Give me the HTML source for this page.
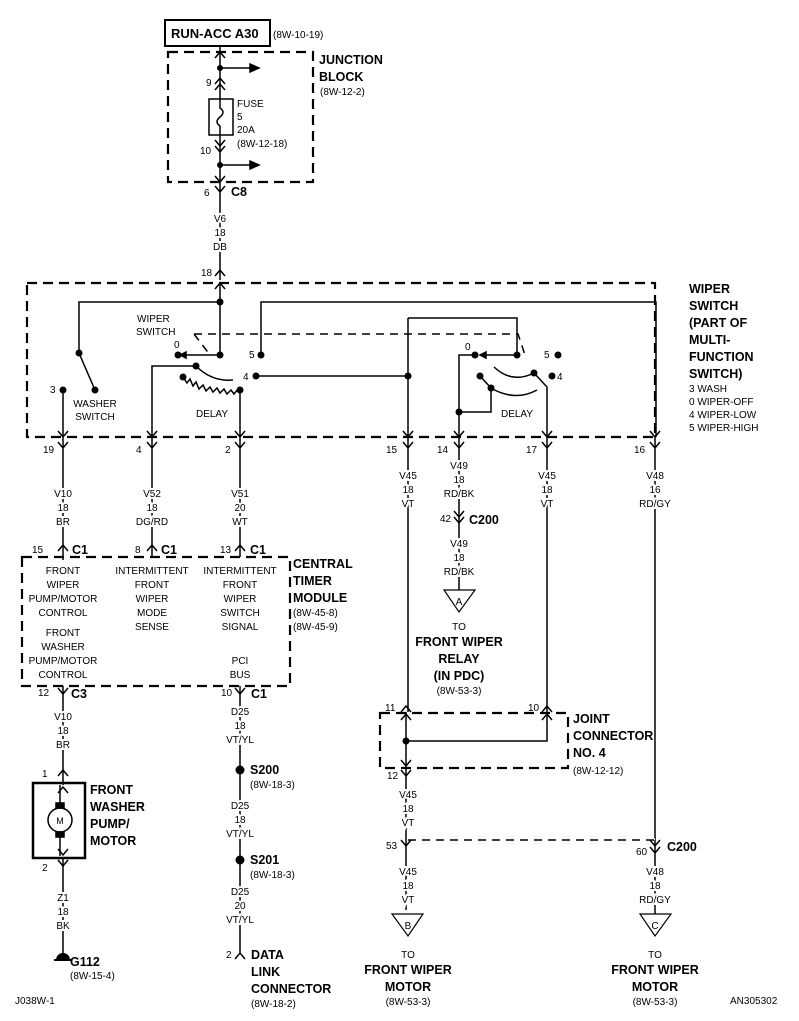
<!DOCTYPE html>
<html><head><meta charset="utf-8"><style>
html,body{margin:0;padding:0;background:#fff}
svg{display:block}
text{font-family:"Liberation Sans",sans-serif;font-size:10px;fill:#000}
.b{font-weight:bold;font-size:12.5px}
.c{text-anchor:middle}
.w{paint-order:stroke;stroke:#fff;stroke-width:4px}
</style></head><body>
<svg width="799" height="1021" viewBox="0 0 799 1021" xmlns="http://www.w3.org/2000/svg">
<defs>
<path id="dn" d="M-5,-6 L0,0 L5,-6" fill="none" stroke="#000" stroke-width="1.5"/>
<path id="up" d="M-5,6 L0,0 L5,6" fill="none" stroke="#000" stroke-width="1.5"/>
</defs>
<g stroke="#000" stroke-width="1.5" fill="none">
<rect x="165" y="20" width="105" height="26" stroke-width="2"/>
<rect x="168" y="52" width="145" height="130" stroke-width="2.2" stroke-dasharray="10,6"/>
<path d="M220,46 V280"/>
<path d="M220,68 H250 M220,165 H250"/>
<path d="M250,64 L259,68 L250,72 Z M250,161 L259,165 L250,169 Z" fill="#000"/>
<rect x="209" y="99" width="24" height="36" fill="#fff"/>
<path d="M220,99 V108 Q226,112 220,117 Q214,122 220,126 V135"/>
<rect x="27" y="283" width="628" height="154" stroke-width="2.2" stroke-dasharray="10,6"/>
<path d="M220,283 V355 M220,302 H79 V353 L95,390"/>
<path d="M220,355 H186"/>
<path d="M186,352 L180,355 L186,358Z" fill="#000"/>
<path d="M194,334 L210,355 M194,334 H518 L525,355" stroke-dasharray="8,6"/>
<path d="M63,390 V437"/>
<path d="M261,355 V302 H656 V437"/>
<path d="M196,366 H152 V437"/>
<path d="M196,366 Q212,382 233,380"/>
<path d="M183,377 l4,6 l3,-4 l3,7 l3,-4 l3,7 l4,-4 l3,6 l4,-4 l3,5 l4,-4 l3,5 l4,-4 l3,5 l4,-4 l3,4 l4,-5 l4,3"/>
<path d="M240,390 V437"/>
<path d="M256,376 H408"/>
<path d="M408,318 V437 M408,318 H517 V355 H485"/>
<path d="M486,352 L480,355 L486,358Z" fill="#000"/>
<path d="M475,355 H459 V437 M459,412 H491 V388 M480,376 L491,388"/>
<path d="M491,388 Q515,402 537,390"/>
<path d="M494,367 Q512,384 534,373 L547,387 V437"/>
<path d="M63,437 V560 M152,437 V557 M240,437 V557 M408,437 V712 M459,437 V590 M547,437 V712 M655,437 V840"/>
<rect x="22" y="557" width="268" height="129" stroke-width="2.2" stroke-dasharray="10,6"/>
<path d="M63,686 V785 M63,858 V955 M240,686 V953"/>
<rect x="33" y="783" width="52" height="75" stroke-width="2.5"/>
<path d="M60,785 V808 M60,832 V856"/>
<circle cx="60" cy="820" r="12" fill="#fff"/>
<rect x="56" y="803" width="8" height="5" fill="#000"/>
<rect x="56" y="832" width="8" height="5" fill="#000"/>
<path d="M54,960 H72" stroke-width="2"/>
<rect x="380" y="713" width="188" height="55" stroke-width="2.2" stroke-dasharray="10,6"/>
<path d="M406,712 V910 M406,741 H547 V712" />
<path d="M408,840 H655" stroke="#fff" stroke-width="3"/>
<path d="M408,840 H655" stroke-dasharray="8,6"/>
<path d="M655,840 V914"/>
<path d="M444,590 H475 L459,612 Z M392,914 H423 L408,936 Z M640,914 H671 L655,936 Z" stroke-width="1.2"/>
</g>
<g fill="#000">
<circle cx="220" cy="68" r="3"/><circle cx="220" cy="165" r="3"/>
<circle cx="220" cy="302" r="3.5"/><circle cx="220" cy="355" r="3.5"/>
<circle cx="79" cy="353" r="3.5"/><circle cx="95" cy="390" r="3.5"/><circle cx="63" cy="390" r="3.5"/>
<circle cx="178" cy="355" r="3.5"/><circle cx="261" cy="355" r="3.5"/>
<circle cx="196" cy="366" r="3.5"/><circle cx="183" cy="377" r="3.5"/><circle cx="240" cy="390" r="3.5"/>
<circle cx="256" cy="376" r="3.5"/><circle cx="408" cy="376" r="3.5"/>
<circle cx="517" cy="355" r="3.5"/><circle cx="475" cy="355" r="3.5"/><circle cx="459" cy="412" r="3.5"/>
<circle cx="491" cy="388" r="3.5"/><circle cx="480" cy="376" r="3.5"/><circle cx="534" cy="373" r="3.5"/>
<circle cx="558" cy="355" r="3.5"/><circle cx="552" cy="376" r="3.5"/>
<circle cx="406" cy="741" r="3.5"/>
<circle cx="240" cy="770" r="4.5"/><circle cx="240" cy="860" r="4.5"/>
<path d="M56,960 A7,7 0 0 1 70,960 Z"/>
</g>
<use href="#up" x="220" y="52"/>
<use href="#up" x="220" y="78"/><use href="#up" x="220" y="84"/>
<use href="#dn" x="220" y="146"/><use href="#dn" x="220" y="152"/>
<use href="#dn" x="220" y="182"/><use href="#dn" x="220" y="192"/>
<use href="#up" x="220" y="270"/><use href="#up" x="220" y="283"/>
<use href="#dn" x="63" y="437"/><use href="#dn" x="63" y="448"/>
<use href="#dn" x="152" y="437"/><use href="#dn" x="152" y="448"/>
<use href="#dn" x="240" y="437"/><use href="#dn" x="240" y="448"/>
<use href="#dn" x="408" y="437"/><use href="#dn" x="408" y="448"/>
<use href="#dn" x="459" y="437"/><use href="#dn" x="459" y="448"/>
<use href="#dn" x="547" y="437"/><use href="#dn" x="547" y="448"/>
<use href="#dn" x="655" y="437"/><use href="#dn" x="655" y="448"/>
<use href="#dn" x="459" y="517"/><use href="#dn" x="459" y="523"/>
<use href="#up" x="63" y="545"/><use href="#up" x="152" y="545"/><use href="#up" x="240" y="545"/>
<use href="#dn" x="63" y="694"/><use href="#dn" x="240" y="694"/>
<use href="#up" x="63" y="770"/><use href="#up" x="63" y="787"/>
<use href="#dn" x="63" y="855"/><use href="#dn" x="63" y="866"/>
<use href="#up" x="240" y="953"/>
<use href="#up" x="406" y="706"/><use href="#up" x="406" y="714"/>
<use href="#up" x="547" y="706"/><use href="#up" x="547" y="714"/>
<use href="#dn" x="406" y="766"/><use href="#dn" x="406" y="776"/>
<use href="#dn" x="406" y="846"/><use href="#dn" x="655" y="846"/><use href="#dn" x="655" y="853"/>

<text x="171" y="38" class="b" style="font-size:13px">RUN-ACC A30</text>
<text x="273" y="38">(8W-10-19)</text>
<text x="319" y="64" class="b">JUNCTION</text>
<text x="319" y="81" class="b">BLOCK</text>
<text x="320" y="95">(8W-12-2)</text>
<text x="206" y="86">9</text>
<text x="237" y="107">FUSE</text><text x="237" y="120">5</text><text x="237" y="133">20A</text><text x="237" y="147">(8W-12-18)</text>
<text x="200" y="154">10</text>
<text x="204" y="196">6</text><text x="231" y="196" class="b">C8</text>
<g class="c">
<text x="220" y="222" class="w">V6</text><text x="220" y="236" class="w">18</text><text x="220" y="250" class="w">DB</text>
</g>
<text x="201" y="276">18</text>
<text x="137" y="322">WIPER</text><text x="136" y="335">SWITCH</text>
<text x="174" y="348">0</text><text x="249" y="358">5</text><text x="243" y="380">4</text>
<text x="50" y="393">3</text>
<text x="95" y="407" class="c">WASHER</text><text x="95" y="420" class="c">SWITCH</text>
<text x="212" y="417" class="c">DELAY</text>
<text x="465" y="350">0</text><text x="544" y="358">5</text><text x="557" y="380">4</text>
<text x="517" y="417" class="c">DELAY</text>
<text x="689" y="293" class="b">WIPER</text><text x="689" y="310" class="b">SWITCH</text>
<text x="689" y="327" class="b">(PART OF</text><text x="689" y="344" class="b">MULTI-</text>
<text x="689" y="361" class="b">FUNCTION</text><text x="689" y="378" class="b">SWITCH)</text>
<text x="689" y="392">3 WASH</text><text x="689" y="405">0 WIPER-OFF</text>
<text x="689" y="418">4 WIPER-LOW</text><text x="689" y="431">5 WIPER-HIGH</text>
<text x="43" y="453">19</text><text x="136" y="453">4</text><text x="225" y="453">2</text>
<text x="386" y="453">15</text><text x="437" y="453">14</text><text x="526" y="453">17</text><text x="634" y="453">16</text>
<g class="c">
<text x="63" y="497" class="w">V10</text><text x="63" y="511" class="w">18</text><text x="63" y="525" class="w">BR</text>
<text x="152" y="497" class="w">V52</text><text x="152" y="511" class="w">18</text><text x="152" y="525" class="w">DG/RD</text>
<text x="240" y="497" class="w">V51</text><text x="240" y="511" class="w">20</text><text x="240" y="525" class="w">WT</text>
<text x="408" y="479" class="w">V45</text><text x="408" y="493" class="w">18</text><text x="408" y="507" class="w">VT</text>
<text x="459" y="469" class="w">V49</text><text x="459" y="483" class="w">18</text><text x="459" y="497" class="w">RD/BK</text>
<text x="547" y="479" class="w">V45</text><text x="547" y="493" class="w">18</text><text x="547" y="507" class="w">VT</text>
<text x="655" y="479" class="w">V48</text><text x="655" y="493" class="w">16</text><text x="655" y="507" class="w">RD/GY</text>
<text x="459" y="547" class="w">V49</text><text x="459" y="561" class="w">18</text><text x="459" y="575" class="w">RD/BK</text>
<text x="459" y="605">A</text>
<text x="459" y="630">TO</text>
<text x="459" y="646" class="b">FRONT WIPER</text><text x="459" y="663" class="b">RELAY</text><text x="459" y="680" class="b">(IN PDC)</text>
<text x="459" y="694">(8W-53-3)</text>
</g>
<text x="440" y="522">42</text><text x="469" y="524" class="b">C200</text>
<text x="32" y="553">15</text><text x="72" y="554" class="b">C1</text>
<text x="135" y="553">8</text><text x="161" y="554" class="b">C1</text>
<text x="220" y="553">13</text><text x="250" y="554" class="b">C1</text>
<g class="c">
<text x="63" y="574">FRONT</text><text x="63" y="588">WIPER</text><text x="63" y="602">PUMP/MOTOR</text><text x="63" y="616">CONTROL</text>
<text x="63" y="636">FRONT</text><text x="63" y="650">WASHER</text><text x="63" y="664">PUMP/MOTOR</text><text x="63" y="678">CONTROL</text>
<text x="152" y="574">INTERMITTENT</text><text x="152" y="588">FRONT</text><text x="152" y="602">WIPER</text><text x="152" y="616">MODE</text><text x="152" y="630">SENSE</text>
<text x="240" y="574">INTERMITTENT</text><text x="240" y="588">FRONT</text><text x="240" y="602">WIPER</text><text x="240" y="616">SWITCH</text><text x="240" y="630">SIGNAL</text>
<text x="240" y="664">PCI</text><text x="240" y="678">BUS</text>
</g>
<text x="293" y="568" class="b">CENTRAL</text><text x="293" y="585" class="b">TIMER</text><text x="293" y="602" class="b">MODULE</text>
<text x="293" y="616">(8W-45-8)</text><text x="293" y="630">(8W-45-9)</text>
<text x="38" y="696">12</text><text x="71" y="698" class="b">C3</text>
<text x="221" y="696">10</text><text x="251" y="698" class="b">C1</text>
<g class="c">
<text x="63" y="720" class="w">V10</text><text x="63" y="734" class="w">18</text><text x="63" y="748" class="w">BR</text>
<text x="63" y="901" class="w">Z1</text><text x="63" y="915" class="w">18</text><text x="63" y="929" class="w">BK</text>
<text x="240" y="715" class="w">D25</text><text x="240" y="729" class="w">18</text><text x="240" y="743" class="w">VT/YL</text>
<text x="240" y="809" class="w">D25</text><text x="240" y="823" class="w">18</text><text x="240" y="837" class="w">VT/YL</text>
<text x="240" y="895" class="w">D25</text><text x="240" y="909" class="w">20</text><text x="240" y="923" class="w">VT/YL</text>
</g>
<text x="42" y="777">1</text><text x="42" y="871">2</text>
<text x="60" y="824" class="c" style="font-size:9px">M</text>
<text x="90" y="794" class="b">FRONT</text><text x="90" y="811" class="b">WASHER</text><text x="90" y="828" class="b">PUMP/</text><text x="90" y="845" class="b">MOTOR</text>
<text x="70" y="966" class="b">G112</text><text x="70" y="979">(8W-15-4)</text>
<text x="250" y="774" class="b">S200</text><text x="250" y="788">(8W-18-3)</text>
<text x="250" y="864" class="b">S201</text><text x="250" y="878">(8W-18-3)</text>
<text x="226" y="958">2</text>
<text x="251" y="959" class="b">DATA</text><text x="251" y="976" class="b">LINK</text><text x="251" y="993" class="b">CONNECTOR</text><text x="251" y="1007">(8W-18-2)</text>
<text x="385" y="711">11</text><text x="528" y="711">10</text>
<text x="387" y="779">12</text>
<text x="573" y="723" class="b">JOINT</text><text x="573" y="740" class="b">CONNECTOR</text><text x="573" y="757" class="b">NO. 4</text><text x="573" y="774">(8W-12-12)</text>
<g class="c">
<text x="408" y="798" class="w">V45</text><text x="408" y="812" class="w">18</text><text x="408" y="826" class="w">VT</text>
<text x="408" y="875" class="w">V45</text><text x="408" y="889" class="w">18</text><text x="408" y="903" class="w">VT</text>
<text x="655" y="875" class="w">V48</text><text x="655" y="889" class="w">18</text><text x="655" y="903" class="w">RD/GY</text>
<text x="408" y="929">B</text><text x="655" y="929">C</text>
<text x="408" y="958">TO</text><text x="408" y="974" class="b">FRONT WIPER</text><text x="408" y="991" class="b">MOTOR</text><text x="408" y="1005">(8W-53-3)</text>
<text x="655" y="958">TO</text><text x="655" y="974" class="b">FRONT WIPER</text><text x="655" y="991" class="b">MOTOR</text><text x="655" y="1005">(8W-53-3)</text>
</g>
<text x="386" y="849">53</text><text x="636" y="855">60</text><text x="667" y="851" class="b">C200</text>
<text x="15" y="1004">J038W-1</text><text x="730" y="1004">AN305302</text>
</svg>
</body></html>
